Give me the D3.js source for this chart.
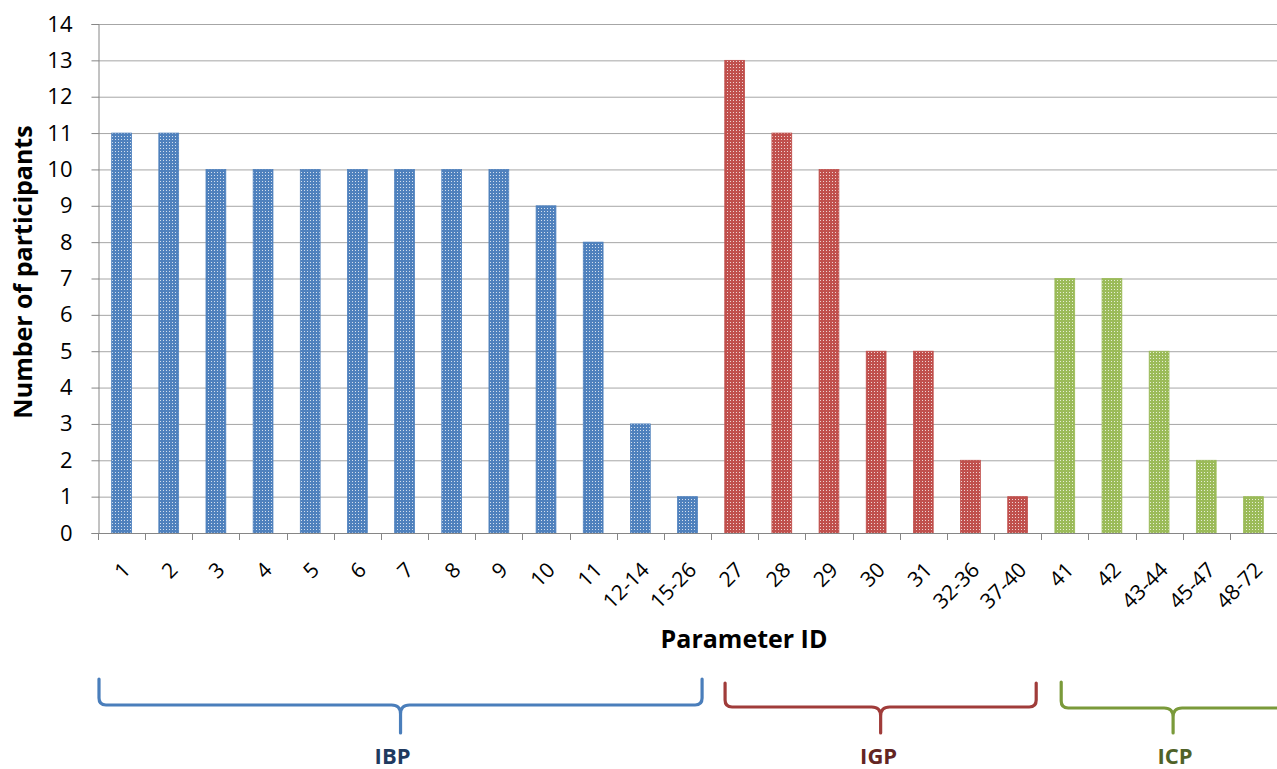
<!DOCTYPE html>
<html>
<head>
<meta charset="utf-8">
<script src="https://cdn.jsdelivr.net/npm/d3@7"></script>
<style>
  html, body { margin: 0; padding: 0; background: #fff; }
  svg { display: block; }
  text { font-family: "Open Sans", Lato, sans-serif; }
</style>
</head>
<body>
<svg id="chart" width="1277" height="769"></svg>
<script>
// Parameter IDs along the x axis
const categories = ["1","2","3","4","5","6","7","8","9","10","11","12-14","15-26",
  "27","28","29","30","31","32-36","37-40",
  "41","42","43-44","45-47","48-72"];
// Number of participants per parameter ID
const participants = [11,11,10,10,10,10,10,10,10,9,8,3,1,
  13,11,10,5,5,2,1,
  7,7,5,2,1];
// Parameter groups: name, first and last category index
const groupNames = ["IBP","IGP","ICP"];
const groupStart = [0,13,20];
const groupEnd = [12,19,24];
const groupColors = ["#4f81bd","#c0504d","#9bbb59"];
const braceColors = ["#4a7ebb","#a03c3a","#7a9a3a"];
const groupTextColors = ["#1f3a60","#632523","#4f6228"];
const yTicks = d3.range(0, 15);

const svg = d3.select("#chart");
const margin = {left: 98, right: 0, top: 24, bottom: 236};
const W = 1277, H = 769;
const x = d3.scaleBand().domain(categories).range([margin.left, W - margin.right]).paddingInner(0.58).paddingOuter(0.29);
const xb = d3.scaleBand().domain(categories).range([margin.left, W - margin.right]);
const y = d3.scaleLinear().domain([0, 14]).range([H - margin.bottom, margin.top]);

const groupOf = i => groupStart.findIndex((s, g) => i >= s && i <= groupEnd[g]);

// dotted fill pattern for each group colour
const defs = svg.append("defs");
groupColors.forEach((c, g) => {
  const p = defs.append("pattern").attr("id", "dots" + g)
    .attr("patternUnits", "userSpaceOnUse").attr("width", 3).attr("height", 3);
  p.append("rect").attr("width", 3).attr("height", 3).attr("fill", c);
  p.append("rect").attr("x", 1).attr("y", 1).attr("width", 1).attr("height", 1)
    .attr("fill", "#ffffff").attr("opacity", 0.75);
});

// horizontal gridlines
svg.append("g").selectAll("line").data(yTicks.filter(d => d > 0)).join("line")
  .attr("x1", margin.left).attr("x2", W)
  .attr("y1", d => y(d) + 0.5).attr("y2", d => y(d) + 0.5)
  .attr("stroke", "#a6a6a6").attr("stroke-width", 1);

// y axis
const yAxis = svg.append("g").attr("transform", `translate(${margin.left + 0.5},0)`)
  .call(d3.axisLeft(y).tickValues(yTicks).tickSize(7).tickPadding(19));
yAxis.select(".domain").attr("stroke", "#868686");
yAxis.selectAll(".tick line").attr("stroke", "#868686");
yAxis.selectAll(".tick text").attr("font-size", 22).attr("fill", "#000")
  .style("font-family", "'Open Sans', sans-serif");

// bars
svg.append("g").selectAll("rect").data(participants).join("rect")
  .attr("x", (d, i) => x(categories[i]))
  .attr("width", x.bandwidth())
  .attr("y", d => y(d))
  .attr("height", d => y(0) - y(d))
  .attr("fill", (d, i) => `url(#dots${groupOf(i)})`)
  .attr("stroke", (d, i) => groupColors[groupOf(i)])
  .attr("stroke-width", 0.8);

// x axis with ticks at band boundaries
const xAxisG = svg.append("g");
xAxisG.append("line").attr("x1", margin.left).attr("x2", W)
  .attr("y1", y(0) + 0.5).attr("y2", y(0) + 0.5).attr("stroke", "#868686");
xAxisG.selectAll("line.tk").data(categories).join("line").attr("class", "tk")
  .attr("x1", d => Math.round(xb(d)) + 0.5).attr("x2", d => Math.round(xb(d)) + 0.5)
  .attr("y1", y(0)).attr("y2", y(0) + 7).attr("stroke", "#868686");
xAxisG.selectAll("text").data(categories).join("text")
  .attr("transform", d => `translate(${xb(d) + xb.bandwidth() / 2 + 5},${y(0) + 33}) rotate(-45)`)
  .attr("text-anchor", "end").attr("dy", "0.35em")
  .attr("font-size", 21).attr("fill", "#000").text(d => d);

// axis titles
svg.append("text").attr("x", 744).attr("y", 648).attr("text-anchor", "middle")
  .attr("font-size", 25).attr("font-weight", "bold").text("Parameter ID");
svg.append("text").attr("transform", "translate(32,272) rotate(-90)")
  .attr("text-anchor", "middle").attr("font-size", 25).attr("font-weight", "bold")
  .text("Number of participants");

// group braces under the axis
const braceLeft = [1, 14, 20];
const braceRight = [-9, -5, 8];
const braceTop = [679, 683, 682];
const braceY = [705, 707, 708];
const labelShift = [-8, -2, 2];
groupNames.forEach((name, g) => {
  const x0 = xb(categories[groupStart[g]]) + braceLeft[g];
  const x1 = xb(categories[groupEnd[g]]) + xb.bandwidth() + braceRight[g];
  const mid = (x0 + x1) / 2;
  const by = braceY[g], top = braceTop[g], tip = 733, r = 7;
  const path = `M${x0},${top} L${x0},${by - r} Q${x0},${by} ${x0 + r},${by} L${mid - 9},${by} Q${mid},${by} ${mid},${by + 9} L${mid},${tip}` +
    ` M${mid},${by + 9} Q${mid},${by} ${mid + 9},${by} L${x1 - r},${by} Q${x1},${by} ${x1},${by - r} L${x1},${top}`;
  svg.append("path").attr("d", path).attr("fill", "none")
    .attr("stroke", braceColors[g]).attr("stroke-width", 3.2).attr("stroke-linecap", "round");
  svg.append("text").attr("x", mid + labelShift[g]).attr("y", 764).attr("text-anchor", "middle")
    .attr("font-size", 22).attr("font-weight", "bold").attr("fill", groupTextColors[g]).text(name);
});
</script>
</body>
</html>
